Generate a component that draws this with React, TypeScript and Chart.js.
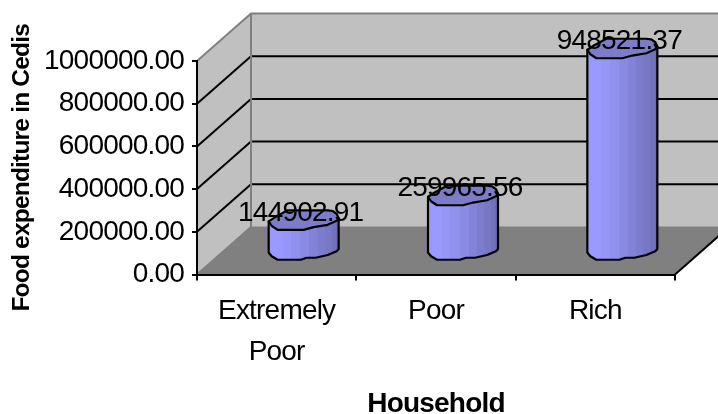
import React, { useEffect, useRef } from "react";
import { Chart, registerables } from "chart.js";

Chart.register(...registerables);

const categories: (string | string[])[] = [["Extremely", "Poor"], "Poor", "Rich"];
const values = [144902.91, 259965.56, 948521.37];
const valueLabels = ["144902.91", "259965.56", "948521.37"];
const FONT = '"Liberation Sans", Arial, sans-serif';

// Depth of the pseudo 3D box
const DX = 54;
const DY = -47.5;

// Outline of the cylinder's cross-section, relative to its centre
const frontEdge: [number, number][] = [
  [-35, 1.5], [-32, 6], [-26, 10], [0, 10], [10, 7.3], [24, 5], [33, 1], [35, -1.7],
];
const baseEdge: [number, number][] = [
  [-35, 2.7], [-32, 6.5], [-26, 10], [-3, 10], [3, 8], [12, 8], [24, 5.3], [33, 1.5], [35, -0.7],
];
const backEdge: [number, number][] = [[33, -6], [29, -8.8], [24, -9.5], [-16, -9.5], [-28, -3]];
const bands: [number, string][] = [
  [0, "#9999ff"], [0.2, "#9696f9"], [0.32, "#9090ee"], [0.45, "#8a8ae4"],
  [0.58, "#8282d8"], [0.7, "#7c7cce"], [0.8, "#7777c4"], [0.9, "#7272bc"], [0.96, "#6c6cb2"],
];

const box3d = {
  id: "box3d",
  beforeDraw(chart: any) {
    const { ctx, chartArea: a, scales } = chart;
    ctx.letterSpacing = "-0.8px";
    const y = scales.y;
    const x0 = a.left, x1 = a.right, yb = a.bottom, yt = a.top;
    ctx.save();
    ctx.lineJoin = "miter";
    // floor
    ctx.fillStyle = "#808080";
    ctx.beginPath();
    ctx.moveTo(x0, yb); ctx.lineTo(x1, yb); ctx.lineTo(x1 + DX, yb + DY); ctx.lineTo(x0 + DX, yb + DY);
    ctx.closePath(); ctx.fill();
    // walls
    ctx.fillStyle = "#c0c0c0";
    ctx.fillRect(x0 + DX, yt + DY, x1 - x0, yb - yt);
    ctx.beginPath();
    ctx.moveTo(x0, yb); ctx.lineTo(x0 + DX, yb + DY); ctx.lineTo(x0 + DX, yt + DY); ctx.lineTo(x0, yt);
    ctx.closePath(); ctx.fill();
    // gridlines
    ctx.strokeStyle = "#000";
    ctx.lineWidth = 2;
    y.ticks.forEach((t: any) => {
      if (t.value === 0 || t.value === y.max) return;
      const p = y.getPixelForValue(t.value);
      ctx.beginPath();
      ctx.moveTo(x0, p); ctx.lineTo(x0 + DX, p + DY); ctx.lineTo(x1 + DX, p + DY);
      ctx.stroke();
    });
    // wall borders
    ctx.strokeStyle = "#808080";
    ctx.beginPath();
    ctx.moveTo(x0, yt); ctx.lineTo(x0 + DX, yt + DY); ctx.lineTo(x1 + DX, yt + DY);
    ctx.moveTo(x0 + DX, yt + DY); ctx.lineTo(x0 + DX, yb + DY);
    ctx.moveTo(x0, yb); ctx.lineTo(x0 + DX, yb + DY);
    ctx.stroke();
    ctx.lineWidth = 1;
    ctx.beginPath();
    ctx.moveTo(x0 + DX, yb + DY); ctx.lineTo(x1 + DX, yb + DY);
    ctx.stroke();
    // right floor edge
    ctx.strokeStyle = "#000";
    ctx.lineWidth = 2;
    ctx.beginPath();
    ctx.moveTo(x1, yb); ctx.lineTo(x1 + DX, yb + DY);
    ctx.stroke();
    ctx.restore();
  },
};

const cylinders = {
  id: "cylinders",
  afterDatasetsDraw(chart: any) {
    const { ctx } = chart;
    const meta = chart.getDatasetMeta(0);
    meta.data.forEach((el: any, i: number) => {
      const cx = el.x + DX / 2;
      const topY = el.y + DY / 2;
      const baseY = el.base + DY / 2;
      const g = ctx.createLinearGradient(cx - 35, 0, cx + 35, 0);
      bands.forEach(([s, c], k) => {
        g.addColorStop(s, c);
        const next = k + 1 < bands.length ? bands[k + 1][0] : 1;
        g.addColorStop(next, c);
      });
      ctx.save();
      ctx.lineWidth = 2.2;
      ctx.strokeStyle = "#000";
      ctx.lineJoin = "round";
      // body
      ctx.beginPath();
      ctx.moveTo(cx + frontEdge[0][0], topY + frontEdge[0][1]);
      baseEdge.forEach(([dx, dy]) => ctx.lineTo(cx + dx, baseY + dy));
      const last = frontEdge[frontEdge.length - 1];
      ctx.lineTo(cx + last[0], topY + last[1]);
      ctx.closePath();
      ctx.fillStyle = g;
      ctx.fill();
      ctx.stroke();
      // cap
      ctx.beginPath();
      frontEdge.forEach(([dx, dy], k) => {
        if (k === 0) ctx.moveTo(cx + dx, topY + dy);
        else ctx.lineTo(cx + dx, topY + dy);
      });
      backEdge.forEach(([dx, dy]) => ctx.lineTo(cx + dx, topY + dy));
      ctx.closePath();
      ctx.fillStyle = "#7c7cc8";
      ctx.fill();
      ctx.stroke();
      // value label
      ctx.fillStyle = "#000";
      ctx.font = `28px ${FONT}`;
      ctx.textAlign = "center";
      ctx.textBaseline = "middle";
      ctx.fillText(valueLabels[i], cx - 3, topY - 6.5);
      ctx.restore();
    });
  },
};

export default function App() {
  const ref = useRef<HTMLCanvasElement>(null);
  useEffect(() => {
    const chart = new Chart(ref.current as HTMLCanvasElement, {
      type: "bar",
      data: {
        labels: categories as any,
        datasets: [{ data: values, backgroundColor: "rgba(0,0,0,0)", borderWidth: 0 }],
      },
      plugins: [box3d, cylinders],
      options: {
        animation: false,
        responsive: false,
        layout: { padding: { top: 61, right: 43, left: 0, bottom: 0 } },
        plugins: { legend: { display: false }, tooltip: { enabled: false } },
        scales: {
          x: {
            afterFit: (s: any) => { s.height = 139.5; },
            grid: { drawOnChartArea: false, drawTicks: true, tickLength: 6, color: "#000", lineWidth: 2 },
            border: { color: "#000", width: 2 },
            ticks: {
              color: "#000", font: { family: FONT, size: 28, lineHeight: 1.46 },
              maxRotation: 0, autoSkip: false, padding: 10,
            },
            title: {
              display: true, text: "Household", color: "#000",
              font: { family: FONT, size: 28, weight: "bold", lineHeight: 1 },
              padding: { top: 0, bottom: -4 },
            },
          },
          y: {
            min: 0, max: 1000000,
            afterFit: (s: any) => { s.width = 197; },
            grid: { drawOnChartArea: false, drawTicks: true, tickLength: 5, color: "#000", lineWidth: 2 },
            border: { color: "#000", width: 2 },
            ticks: {
              stepSize: 200000, color: "#000", padding: 8,
              font: { family: FONT, size: 28 },
              callback: (v: any) => Number(v).toFixed(2),
            },
            title: {
              display: true, text: "Food expenditure in Cedis", color: "#000",
              font: { family: FONT, size: 24.5, weight: "bold" },
              padding: { top: 8, bottom: 0 },
            },
          },
        },
      },
    } as any);
    return () => chart.destroy();
  }, []);
  return (
    <div style={{ position: "fixed", left: 0, top: 0, width: 718, height: 414, overflow: "hidden" }}>
      <canvas ref={ref} width={718} height={414} style={{ display: "block", width: 718, height: 414 }} />
    </div>
  );
}
